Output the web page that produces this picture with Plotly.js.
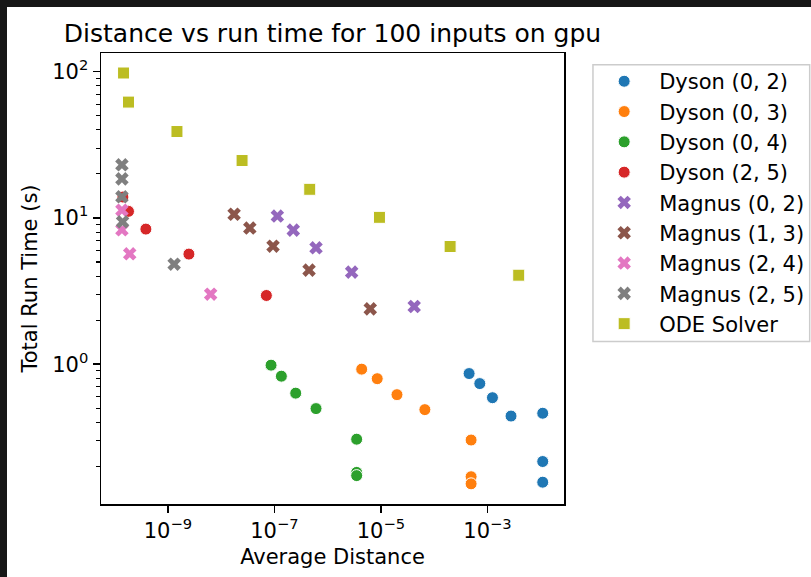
<!DOCTYPE html>
<html>
<head>
<meta charset="utf-8">
<script src="https://cdn.plot.ly/plotly-3.0.1.min.js"></script>
<style>
  html, body { margin: 0; padding: 0; background: #171717; width: 811px; height: 577px; overflow: hidden; }
  #chart { position: absolute; left: 7px; top: 7px; width: 804px; height: 570px; background: #ffffff; }
</style>
</head>
<body>
<div id="chart"></div>
<script>
// ---- data ----
const seriesNames = ["Dyson (0, 2)", "Dyson (0, 3)", "Dyson (0, 4)", "Dyson (2, 5)",
                     "Magnus (0, 2)", "Magnus (1, 3)", "Magnus (2, 4)", "Magnus (2, 5)", "ODE Solver"];

const dyson02_x = [4.52e-4, 7.18e-4, 1.24e-3, 2.77e-3, 1.09e-2, 1.09e-2, 1.09e-2];
const dyson02_y = [0.863, 0.737, 0.590, 0.442, 0.462, 0.216, 0.156];

const dyson03_x = [4.35e-6, 8.51e-6, 2.0e-5, 6.68e-5, 4.93e-4, 4.93e-4, 4.93e-4];
const dyson03_y = [0.925, 0.796, 0.619, 0.489, 0.303, 0.170, 0.152];

const dyson04_x = [8.65e-8, 1.35e-7, 2.51e-7, 6.04e-7, 3.50e-6, 3.50e-6, 3.50e-6];
const dyson04_y = [0.985, 0.828, 0.634, 0.497, 0.307, 0.182, 0.173];

const dyson25_x = [1.43e-10, 1.82e-10, 3.86e-10, 2.48e-9, 7.06e-8];
const dyson25_y = [13.9, 11.1, 8.39, 5.66, 2.95];

const magnus02_x = [1.135e-7, 2.26e-7, 6.04e-7, 2.82e-6, 4.21e-5];
const magnus02_y = [10.3, 8.26, 6.25, 4.26, 2.48];

const magnus13_x = [1.75e-8, 3.45e-8, 9.42e-8, 4.47e-7, 6.30e-6];
const magnus13_y = [10.6, 8.53, 6.41, 4.40, 2.39];

const magnus24_x = [1.37e-10, 1.37e-10, 1.92e-10, 6.35e-9];
const magnus24_y = [11.3, 8.3, 5.69, 3.01];

const magnus25_x = [1.37e-10, 1.37e-10, 1.37e-10, 1.41e-10, 1.31e-9];
const magnus25_y = [23.1, 18.5, 13.96, 9.41, 4.83];

const ode_x = [1.47e-10, 1.82e-10, 1.48e-9, 2.47e-8, 4.60e-7, 9.38e-6, 1.99e-4, 3.86e-3];
const ode_y = [98, 62, 39, 24.7, 15.7, 10.1, 6.38, 4.06];

const xTickVals = [1e-9, 1e-7, 1e-5, 1e-3];
const xTickText = ["10<sup>−9</sup>", "10<sup>−7</sup>", "10<sup>−5</sup>", "10<sup>−3</sup>"];
const yTickVals = [1, 10, 100];
const yTickText = ["10<sup>0</sup>", "10<sup>1</sup>", "10<sup>2</sup>"];
const yMinorVals = [0.2,0.3,0.4,0.5,0.6,0.7,0.8,0.9, 2,3,4,5,6,7,8,9, 20,30,40,50,60,70,80,90];

// ---- styling ----
const colors = ["#1f77b4", "#ff7f0e", "#2ca02c", "#d62728", "#9467bd", "#8c564b", "#e377c2", "#7f7f7f", "#bcbd22"];
const symbols = ["circle", "circle", "circle", "circle", "x", "x", "x", "x", "square"];
const xs = [dyson02_x, dyson03_x, dyson04_x, dyson25_x, magnus02_x, magnus13_x, magnus24_x, magnus25_x, ode_x];
const ys = [dyson02_y, dyson03_y, dyson04_y, dyson25_y, magnus02_y, magnus13_y, magnus24_y, magnus25_y, ode_y];

const FONT = "DejaVu Sans, Liberation Sans, sans-serif";

const traces = seriesNames.map((name, i) => ({
  type: "scatter",
  mode: "markers",
  name: name,
  x: xs[i],
  y: ys[i],
  marker: {
    color: colors[i],
    symbol: symbols[i],
    size: 12,
    line: { color: "#ffffff", width: symbols[i] === "x" ? 0 : 1 }
  }
}));

// plot area in page pixels (inside the 804x570 chart div offset by 7,7)
const PL = 100.7, PR = 564.3, PT = 53.3, PB = 504;
const px2x = p => (p - PL) / (PR - PL);
const px2y = p => (PB - p) / (PB - PT);

const layout = {
  width: 804,
  height: 570,
  paper_bgcolor: "#ffffff",
  plot_bgcolor: "#ffffff",
  margin: { l: PL - 7, r: 804 - (PR - 7), t: PT - 7, b: 570 - (PB - 7), pad: 0, autoexpand: false },
  font: { family: FONT, size: 21, color: "#000000" },
  title: {
    text: "Distance vs run time for 100 inputs on gpu",
    font: { family: FONT, size: 25, color: "#000000" },
    x: 0.5, xref: "paper", xanchor: "center",
    y: 1 - 26 / 570, yref: "container", yanchor: "middle"
  },
  showlegend: true,
  legend: {
    x: px2x(589.5), xanchor: "left",
    y: px2y(61.4), yanchor: "top",
    bgcolor: "rgba(0,0,0,0)",
    borderwidth: 0,
    font: { family: FONT, size: 21, color: "#000000" },
    itemwidth: 60
  },
  shapes: [{
    type: "rect", xref: "paper", yref: "paper", layer: "above",
    x0: px2x(593.3), x1: px2x(810.3), y0: px2y(341.7), y1: px2y(65),
    line: { color: "#cccccc", width: 1.5 }, fillcolor: "rgba(255,255,255,0.8)"
  }],
  xaxis: {
    type: "log",
    range: [-10.256, -1.563],
    showgrid: false, zeroline: false,
    showline: true, mirror: true, linecolor: "#000000", linewidth: 1.5,
    ticks: "outside", ticklen: 7, tickwidth: 1.5, tickcolor: "#000000",
    tickmode: "array", tickvals: xTickVals, ticktext: xTickText,
    tickfont: { family: FONT, size: 21, color: "#000000" },
    title: { text: "Average Distance", font: { family: FONT, size: 21, color: "#000000" }, standoff: 7 }
  },
  yaxis: {
    type: "log",
    range: [-0.956, 2.128],
    showgrid: false, zeroline: false,
    showline: true, mirror: true, linecolor: "#000000", linewidth: 1.5,
    ticks: "outside", ticklen: 7, tickwidth: 1.5, tickcolor: "#000000",
    tickmode: "array", tickvals: yTickVals, ticktext: yTickText,
    tickfont: { family: FONT, size: 21, color: "#000000" },
    minor: { tickmode: "array", tickvals: yMinorVals, ticks: "outside", ticklen: 4, tickwidth: 1.1, tickcolor: "#000000", showgrid: false },
    title: { text: "Total Run Time (s)", font: { family: FONT, size: 21, color: "#000000" }, standoff: 9 }
  }
};

Plotly.newPlot("chart", traces, layout, { displayModeBar: false, staticPlot: true });
</script>
</body>
</html>
